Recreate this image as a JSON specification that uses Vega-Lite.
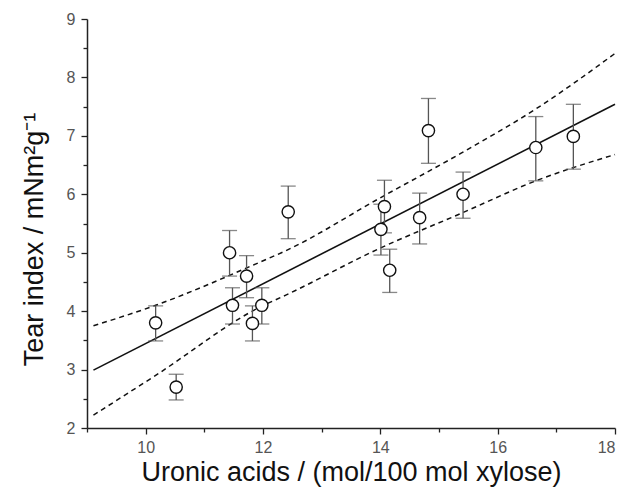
{
  "$schema": "https://vega.github.io/schema/vega-lite/v6.json",
  "width": 528,
  "height": 409,
  "autosize": "none",
  "padding": {"left": 87, "top": 19, "right": 9, "bottom": 68},
  "config": {
    "view": {"stroke": null},
    "font": "Liberation Sans",
    "axis": {
      "grid": false,
      "domainColor": "#222",
      "domainWidth": 1.5,
      "tickColor": "#222",
      "tickWidth": 1.3,
      "labelColor": "#555",
      "labelFontSize": 16,
      "labelFont": "Liberation Sans",
      "titleFont": "Liberation Sans",
      "titleFontWeight": "normal",
      "titleColor": "#111"
    }
  },
  "datasets": {
    "pts": [
      {"x": 10.17, "y": 3.8, "lo": 3.49, "hi": 4.09},
      {"x": 10.52, "y": 2.7, "lo": 2.48, "hi": 2.92},
      {"x": 11.43, "y": 5.0, "lo": 4.6, "hi": 5.38},
      {"x": 11.48, "y": 4.1, "lo": 3.78, "hi": 4.4},
      {"x": 11.72, "y": 4.6, "lo": 4.23, "hi": 4.95},
      {"x": 11.82, "y": 3.79, "lo": 3.49, "hi": 4.09},
      {"x": 11.98, "y": 4.1, "lo": 3.78, "hi": 4.4},
      {"x": 12.43, "y": 5.7, "lo": 5.24, "hi": 6.14},
      {"x": 14.01, "y": 5.4, "lo": 4.96, "hi": 5.83},
      {"x": 14.07, "y": 5.79, "lo": 5.34, "hi": 6.24},
      {"x": 14.16, "y": 4.7, "lo": 4.32, "hi": 5.06},
      {"x": 14.67, "y": 5.6, "lo": 5.15, "hi": 6.02},
      {"x": 14.82, "y": 7.09, "lo": 6.53, "hi": 7.64},
      {"x": 15.41, "y": 6.0, "lo": 5.59, "hi": 6.38},
      {"x": 16.65, "y": 6.8, "lo": 6.23, "hi": 7.33},
      {"x": 17.29, "y": 6.99, "lo": 6.43, "hi": 7.54}
    ],
    "fit": [
      {"x": 9.11, "y": 2.99},
      {"x": 18, "y": 7.54}
    ],
    "band": [
      {"x": 9.11, "upper": 3.75, "lower": 2.22},
      {"x": 10.17, "upper": 4.1, "lower": 2.9},
      {"x": 11.95, "upper": 4.84, "lower": 4.07},
      {"x": 12.38, "upper": 5.03, "lower": 4.27},
      {"x": 14.0, "upper": 5.94, "lower": 5.08},
      {"x": 15.37, "upper": 6.7, "lower": 5.67},
      {"x": 16.65, "upper": 7.46, "lower": 6.23},
      {"x": 18, "upper": 8.41, "lower": 6.68}
    ]
  },
  "encoding": {
    "x": {
      "type": "quantitative",
      "scale": {"domain": [9, 18], "nice": false, "zero": false},
      "axis": {
        "title": "Uronic acids / (mol/100 mol xylose)",
        "titleFontSize": 27,
        "titlePadding": 4,
        "format": "d",
        "values": [9, 10, 11, 12, 13, 14, 15, 16, 17, 18],
        "labelExpr": "datum.value % 2 === 0 && datum.value > 9 ? datum.label : ''",
        "tickSize": {"condition": {"test": "datum.value % 2 === 0", "value": 6}, "value": 4},
        "labelPadding": 5
      }
    },
    "y": {
      "type": "quantitative",
      "scale": {"domain": [2, 9], "nice": false, "zero": false},
      "axis": {
        "title": "Tear index / mNm²g⁻¹",
        "titleFontSize": 27,
        "titlePadding": 18,
        "titleY": 220,
        "format": ".0f",
        "values": [2, 2.5, 3, 3.5, 4, 4.5, 5, 5.5, 6, 6.5, 7, 7.5, 8, 8.5, 9],
        "labelExpr": "datum.value % 1 === 0 ? datum.label : ''",
        "tickSize": {"condition": {"test": "datum.value % 1 === 0", "value": 6}, "value": 4},
        "labelPadding": 6
      }
    }
  },
  "layer": [
    {
      "data": {"name": "band"},
      "mark": {"type": "line", "color": "#111", "strokeWidth": 1.5, "strokeDash": [5, 4], "interpolate": "monotone"},
      "encoding": {"x": {"field": "x"}, "y": {"field": "upper"}}
    },
    {
      "data": {"name": "band"},
      "mark": {"type": "line", "color": "#111", "strokeWidth": 1.5, "strokeDash": [5, 4], "interpolate": "monotone"},
      "encoding": {"x": {"field": "x"}, "y": {"field": "lower"}}
    },
    {
      "data": {"name": "fit"},
      "mark": {"type": "line", "color": "#111", "strokeWidth": 1.6},
      "encoding": {"x": {"field": "x"}, "y": {"field": "y"}}
    },
    {
      "data": {"name": "pts"},
      "mark": {"type": "rule", "color": "#555", "strokeWidth": 1.3},
      "encoding": {"x": {"field": "x"}, "y": {"field": "lo"}, "y2": {"field": "hi"}}
    },
    {
      "data": {"name": "pts"},
      "mark": {"type": "tick", "orient": "horizontal", "color": "#555", "size": 15, "thickness": 1.3},
      "encoding": {"x": {"field": "x"}, "y": {"field": "lo"}}
    },
    {
      "data": {"name": "pts"},
      "mark": {"type": "tick", "orient": "horizontal", "color": "#555", "size": 15, "thickness": 1.3},
      "encoding": {"x": {"field": "x"}, "y": {"field": "hi"}}
    },
    {
      "data": {"name": "pts"},
      "mark": {"type": "point", "shape": "circle", "filled": false, "fill": "white", "fillOpacity": 1, "color": "#111", "strokeWidth": 1.4, "size": 150, "opacity": 1},
      "encoding": {"x": {"field": "x"}, "y": {"field": "y"}}
    }
  ]
}
